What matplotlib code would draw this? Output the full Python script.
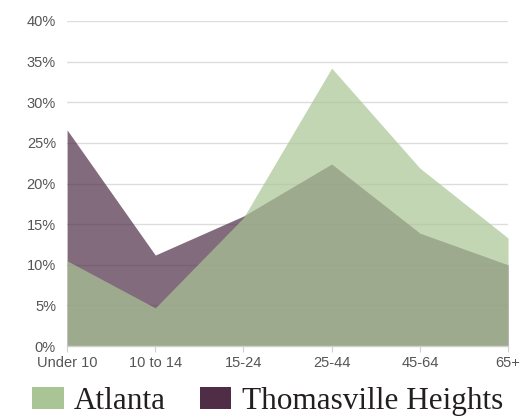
import matplotlib.pyplot as plt
from matplotlib.patches import Patch

# age groups and share of population (%)
age_groups = ['Under 10', '10 to 14', '15-24', '25-44', '45-64', '65+']
atlanta = [10.5, 4.7, 15.8, 34.2, 21.9, 13.3]
thomasville = [26.6, 11.2, 16.0, 22.4, 13.9, 10.0]

y_ticks = [0, 5, 10, 15, 20, 25, 30, 35, 40]

atl_color = '#a9c595'
tho_color = '#4f2d47'

fig = plt.figure(figsize=(5.2, 4.19), dpi=100)
ax = fig.add_axes([0.129, 0.174, 0.848, 0.776])

x = list(range(len(age_groups)))
ax.fill_between(x, 0, thomasville, color=tho_color, alpha=0.7, linewidth=0, zorder=2)
ax.fill_between(x, 0, atlanta, color=atl_color, alpha=0.7, linewidth=0, zorder=3)

ax.set_xlim(0, len(age_groups) - 1)
ax.set_ylim(0, 40)
ax.set_yticks(y_ticks)
ax.set_yticklabels(['{}%'.format(v) for v in y_ticks])
ax.set_xticks(x)
ax.set_xticklabels(age_groups)

for v in y_ticks[1:]:
    ax.axhline(v, color='#dddddd', linewidth=1, zorder=1)

for s in ['top', 'right', 'left']:
    ax.spines[s].set_visible(False)
ax.spines['bottom'].set_color('#d0d0d0')
ax.spines['bottom'].set_linewidth(1)
ax.spines['bottom'].set_zorder(4)

ax.tick_params(axis='y', length=0, pad=8, labelsize=10.5, labelcolor='#555555')
ax.tick_params(axis='x', length=4, color='#d0d0d0', pad=3, labelsize=10.5, labelcolor='#555555')
for lbl in ax.get_xticklabels() + ax.get_yticklabels():
    lbl.set_family('Liberation Sans')

handles = [Patch(facecolor=atl_color, edgecolor='none', label='Atlanta'),
           Patch(facecolor=tho_color, edgecolor='none', label='Thomasville Heights')]
fig.legend(handles=handles, loc='lower left', bbox_to_anchor=(0.02, -0.045), ncol=2,
           frameon=False, prop={'family': 'Liberation Serif', 'size': 22.5},
           handlelength=1.0, handleheight=0.69, handletextpad=0.33,
           columnspacing=1.1, labelcolor='#231f20', borderpad=0.2)

fig.savefig('out.png', dpi=100)
